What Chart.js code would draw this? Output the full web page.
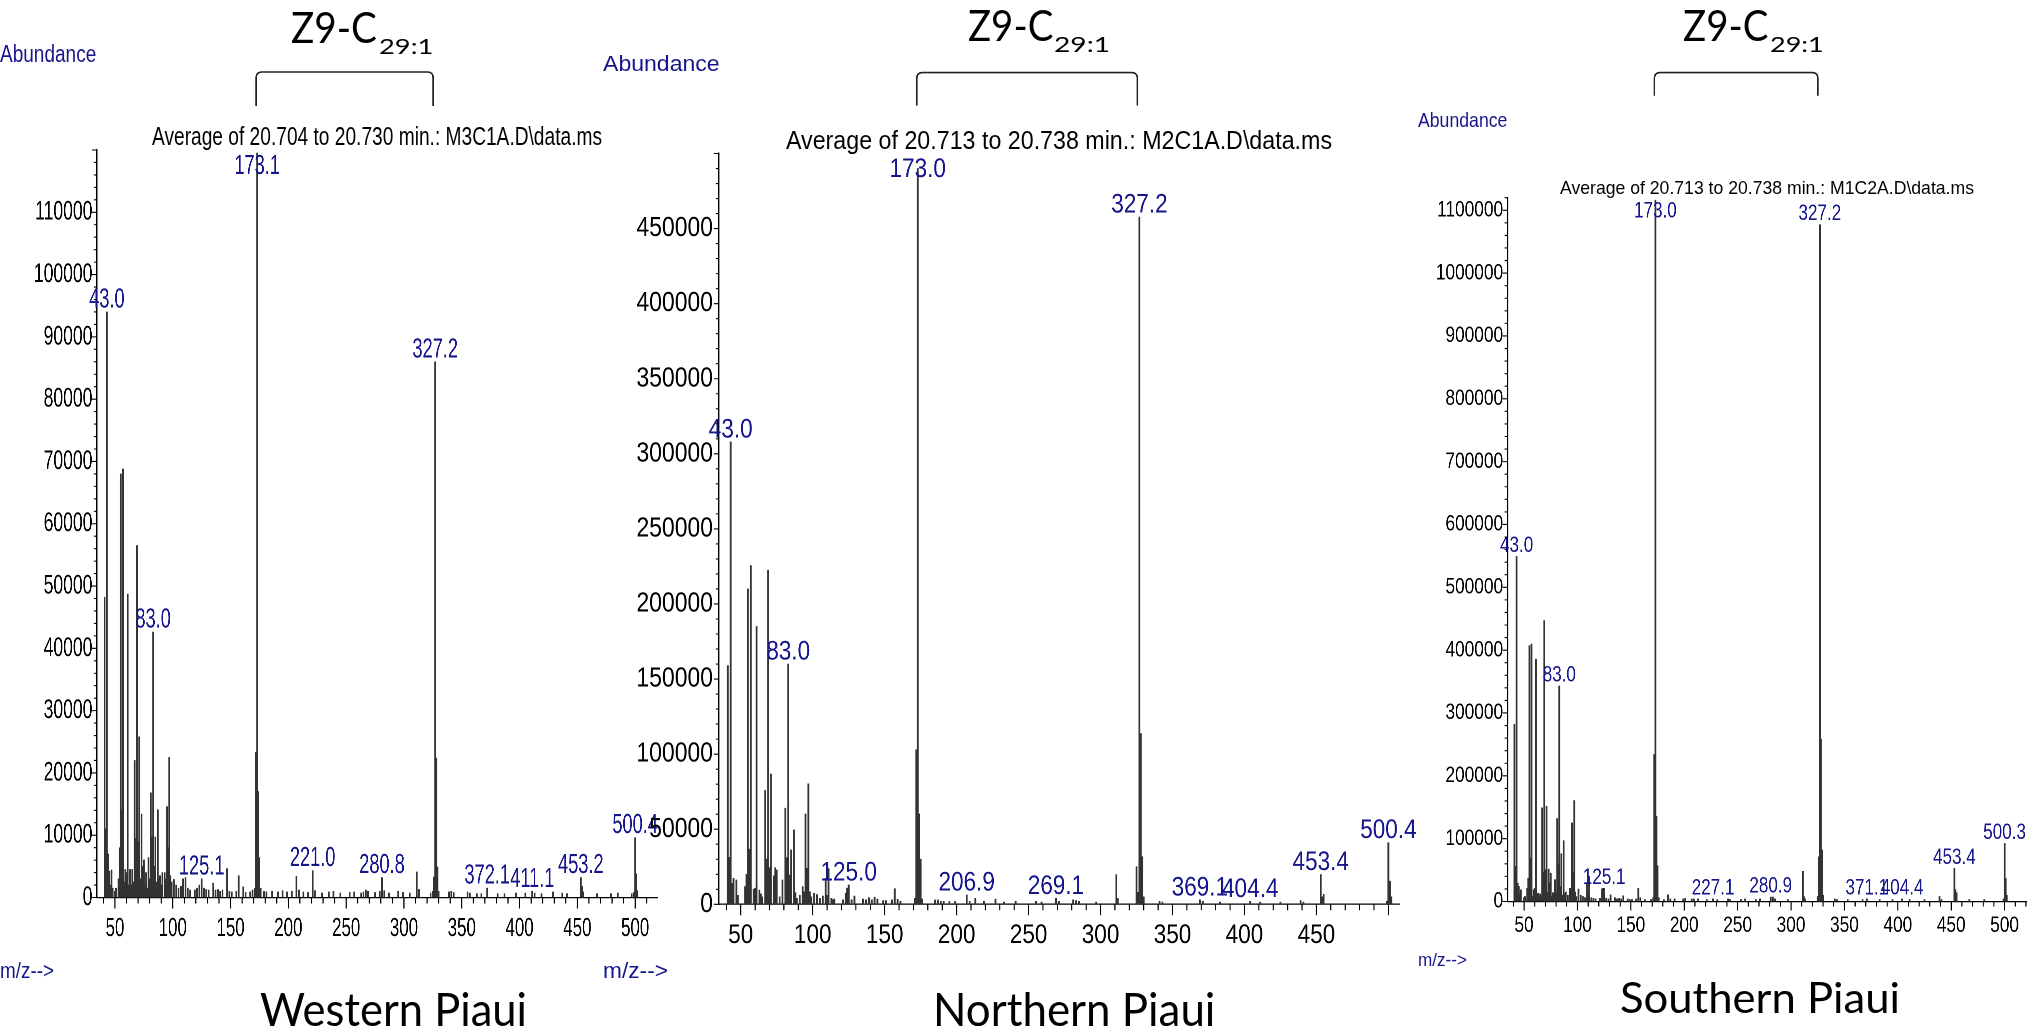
<!DOCTYPE html>
<html>
<head>
<meta charset="utf-8">
<script src="https://cdn.jsdelivr.net/npm/chart.js@4.4.1/dist/chart.umd.min.js"></script>
<style>
  html, body { margin: 0; padding: 0; background: #fff; width: 2042px; height: 1034px; overflow: hidden; position: relative; }
  .panel { position: absolute; top: 0; transform-origin: 0 0; }
  .txt { position: absolute; white-space: nowrap; line-height: normal; transform-origin: 0 0; }
</style>
</head>
<body>
<script>
// ---- Western Piaui (M3C1A) ----
var westMz = [41, 42, 43, 44, 45, 46, 47, 48, 50, 51, 53, 54, 55, 56, 57, 58, 59, 60, 61, 62, 63, 64, 65, 66, 67, 68, 69, 70,
  71, 72, 73, 74, 75, 76, 77, 78, 79, 80, 81, 82, 83, 84, 85, 86, 87, 88, 89, 90, 91, 93, 94, 95, 96, 97, 98, 99, 101, 103,
  105, 107, 109, 111, 113, 115, 119, 121, 123, 125, 127, 129, 131, 135, 137, 139, 141, 143, 147, 149, 151, 155, 157, 161,
  163, 167, 169, 171, 172, 173, 174, 175, 176, 179, 181, 186, 191, 195, 199, 203, 207, 209, 213, 217, 221, 223, 229, 235,
  239, 245, 253, 257, 263, 265, 267, 269, 275, 279, 281, 283, 287, 295, 299, 305, 311, 313, 323, 325, 326, 327, 328, 329,
  330, 339, 341, 343, 355, 357, 363, 367, 372, 381, 387, 397, 405, 411, 413, 419, 429, 437, 441, 453, 454, 455, 467, 479,
  485, 497, 499, 500, 501, 502];
var westAbund = [48200, 11000, 94000, 7000, 4200, 2000, 4400, 1500, 1000, 1500, 3000, 8000, 68000, 14000, 68800, 2500, 4500,
  4000, 48700, 2000, 4500, 2000, 4500, 2500, 22000, 9500, 56500, 9000, 25800, 3000, 13400, 5000, 6000, 2000, 4000, 1500, 6400,
  3000, 16800, 9700, 42600, 5000, 9700, 2500, 14100, 3000, 3500, 2000, 4000, 4000, 3000, 14600, 8000, 22500, 3500, 2500, 2900,
  2000, 1500, 1800, 3000, 3200, 1500, 1200, 1200, 1500, 2000, 3000, 1500, 1300, 1200, 2300, 1200, 1300, 1000, 1200, 4650,
  1000, 900, 1000, 3500, 1700, 800, 900, 1200, 1500, 23300, 119500, 17000, 6400, 1500, 1000, 900, 1000, 900, 1100, 900, 1000,
  3400, 1200, 900, 800, 4300, 1100, 700, 900, 1000, 700, 800, 900, 700, 900, 1200, 1000, 800, 1000, 3200, 1100, 700, 1000,
  800, 700, 4100, 1300, 700, 1000, 3300, 86000, 22400, 4900, 1000, 900, 1000, 800, 900, 700, 600, 600, 1500, 600, 600, 700,
  700, 1000, 700, 600, 900, 700, 600, 3200, 1800, 900, 600, 600, 700, 600, 800, 9600, 3800, 1100];
var westLabelMz = [43, 83, 125, 173, 221, 281, 327, 372, 411, 453, 500];
var westLabelText = ['43.0', '83.0', '125.1', '173.1', '221.0', '280.8', '327.2', '372.1', '411.1', '453.2', '500.4'];

// ---- Northern Piaui (M2C1A) ----
var northMz = [41, 42, 43, 44, 45, 47, 48, 53, 54, 55, 56, 57, 59, 60, 61, 63, 64, 65, 67, 68, 69, 70, 71, 73, 74, 75, 77,
  79, 81, 82, 83, 84, 85, 87, 88, 89, 91, 93, 94, 95, 96, 97, 98, 99, 101, 103, 105, 107, 109, 110, 111, 113, 114, 115, 121,
  123, 124, 125, 127, 129, 135, 137, 139, 141, 143, 145, 149, 151, 155, 157, 159, 161, 171, 172, 173, 174, 175, 176, 185,
  187, 189, 191, 195, 199, 207, 209, 213, 219, 227, 233, 241, 255, 259, 269, 271, 281, 283, 285, 297, 311, 312, 325, 326,
  327, 328, 329, 330, 341, 343, 369, 371, 383, 404, 411, 425, 439, 441, 453, 454, 455, 499, 500, 501, 502];
var northAbund = [159000, 31300, 308000, 14000, 17300, 16200, 6000, 11800, 20000, 210000, 36700, 225600, 10000, 10700,
  185000, 9500, 7000, 5000, 75800, 30200, 222500, 24400, 86700, 18900, 24400, 22900, 5000, 16200, 64000, 31100, 160000,
  19500, 36200, 49500, 7800, 4000, 6000, 11800, 8400, 60200, 24000, 80200, 8400, 5000, 7300, 6500, 4000, 5500, 17300, 6000,
  23800, 4000, 3000, 3500, 3000, 7300, 10700, 12900, 3000, 5500, 3500, 3000, 4400, 3000, 4700, 3500, 2500, 2500, 3000, 10400,
  3300, 2000, 4000, 102900, 490000, 60200, 30000, 3500, 2900, 2900, 2000, 2000, 2000, 2000, 6200, 2000, 4000, 2000, 3500,
  1500, 2000, 2000, 1500, 4000, 2000, 3000, 2500, 2000, 1500, 19800, 4000, 25000, 8000, 457700, 113700, 31700, 5000, 2000,
  1500, 3000, 2000, 1500, 2000, 1500, 1500, 2500, 1500, 19800, 5000, 6600, 2000, 41000, 15400, 5000];
var northLabelMz = [43, 83, 125, 173, 207, 269, 327, 369, 404, 453, 500];
var northLabelText = ['43.0', '83.0', '125.0', '173.0', '206.9', '269.1', '327.2', '369.1', '404.4', '453.4', '500.4'];

// ---- Southern Piaui (M1C2A) ----
var southMz = [41, 42, 43, 44, 45, 46, 47, 50, 51, 53, 54, 55, 56, 57, 58, 59, 60, 61, 62, 63, 64, 65, 66, 67, 68, 69, 70,
  71, 72, 73, 74, 75, 76, 77, 78, 79, 80, 81, 82, 83, 84, 85, 86, 87, 88, 89, 91, 93, 94, 95, 96, 97, 98, 99, 101, 103, 105,
  107, 109, 110, 111, 113, 115, 117, 121, 123, 124, 125, 127, 129, 131, 135, 137, 139, 141, 143, 147, 149, 151, 155, 157,
  159, 163, 169, 171, 172, 173, 174, 175, 176, 181, 185, 187, 191, 199, 201, 207, 209, 213, 221, 227, 231, 241, 243, 253,
  257, 267, 271, 281, 283, 285, 297, 311, 312, 313, 325, 326, 327, 328, 329, 330, 341, 343, 353, 367, 371, 383, 395, 404,
  411, 425, 439, 441, 453, 454, 455, 467, 481, 499, 500, 501, 502];
var southAbund = [281900, 55800, 549000, 29000, 24000, 12000, 18600, 6000, 8000, 21000, 37000, 407000, 69000, 409600, 8000,
  18600, 21000, 385600, 10000, 13000, 8000, 12000, 8000, 149000, 46000, 447000, 50500, 151600, 14000, 51600, 30000, 45000,
  8000, 14000, 12000, 34600, 14000, 131900, 60100, 343000, 24000, 76000, 10000, 96800, 12000, 15000, 10000, 21000, 18000,
  125000, 46800, 160600, 15000, 8000, 19700, 10000, 8000, 6000, 29000, 12000, 40000, 6000, 5000, 4000, 5000, 19700, 21000,
  21000, 5000, 4000, 10600, 6000, 4000, 5000, 4000, 9000, 4000, 3000, 3000, 4000, 21000, 6000, 3000, 3000, 6000, 234000,
  1116000, 135600, 57000, 6000, 3000, 10600, 4000, 4000, 4000, 5000, 4000, 4000, 4000, 3000, 4000, 3000, 4000, 3000, 3000,
  4000, 3000, 4000, 7000, 7000, 4000, 3000, 48000, 8000, 4000, 8000, 71000, 1077000, 258000, 82000, 10000, 4000, 3000, 3000,
  3000, 4000, 3000, 3000, 4000, 3000, 3000, 8000, 3000, 52500, 19000, 14000, 3000, 3000, 4000, 92400, 36700, 10000];
var southLabelMz = [43, 83, 125, 173, 227, 281, 327, 371, 404, 453, 500];
var southLabelText = ['43.0', '83.0', '125.1', '173.0', '227.1', '280.9', '327.2', '371.1', '404.4', '453.4', '500.3'];

var NAVY = '#15158c';
var SANS = "'Liberation Sans', Arial, sans-serif";
var TITLE = "Lato, 'Open Sans', sans-serif";

// page geometry of each spectrum (k = horizontal squeeze of the original plot)
var panels = [
  { mz: westMz, ab: westAbund, labMz: westLabelMz, labTxt: westLabelText,
    P: 0, k: 0.65, L: 96.7, R: 657.8, T: 150, B: 897.5, edge: 690,
    xMin: 34.2, xMax: 519.6, yMax: 120000, yMinor: 2000, yMajor: 10000, yLabelMax: 110000,
    yFont: 27, xFont: 26, labFont: 28, yPad: 4.3, xPad: 15.7, hide500: false,
    tkMaj: 11, tkMin: 6, brTop: 72, brBot: 106 },
  { mz: northMz, ab: northAbund, labMz: northLabelMz, labTxt: northLabelText,
    P: 600, k: 0.835, L: 718.7, R: 1399.6, T: 153.5, B: 904.3, edge: 1425,
    xMin: 34.7, xMax: 507.8, yMax: 500000, yMinor: 10000, yMajor: 50000, yLabelMax: 450000,
    yFont: 27.5, xFont: 27, labFont: 27, yPad: 5.7, xPad: 15.2, hide500: true,
    tkMaj: 11, tkMin: 6, brTop: 72.6, brBot: 105.6 },
  { mz: southMz, ab: southAbund, labMz: southLabelMz, labTxt: southLabelText,
    P: 1410, k: 0.775, L: 1507.5, R: 2026.8, T: 197.7, B: 901.5, edge: 2042,
    xMin: 34.5, xMax: 520.8, yMax: 1120000, yMinor: 20000, yMajor: 100000, yLabelMax: 1100000,
    yFont: 22.3, xFont: 22.3, labFont: 22, yPad: 4.4, xPad: 11, hide500: false,
    tkMaj: 9, tkMin: 5, brTop: 72.6, brBot: 95.7 }
];

function makeDecor(p) {
  return {
    id: 'decor',
    afterDraw: function(chart) {
      var ctx = chart.ctx, xs = chart.scales.x, ys = chart.scales.y, a = chart.chartArea, k = p.k;
      ctx.save();
      // peak labels (squeezed along with the plot)
      ctx.fillStyle = NAVY;
      ctx.font = p.labFont + 'px ' + SANS;
      ctx.textAlign = 'center';
      ctx.textBaseline = 'alphabetic';
      p.labMz.forEach(function(m, i) {
        var v = p.ab[p.mz.indexOf(m)];
        var base = Math.max(ys.getPixelForValue(v) - 4.5, a.top + 4 + 0.716 * p.labFont);
        ctx.fillText(p.labTxt[i], xs.getPixelForValue(m), base);
      });
      // tick marks and bracket drawn in page units
      ctx.scale(1 / k, 1);
      ctx.strokeStyle = '#000';
      ctx.lineWidth = 1.1;
      ctx.beginPath();
      xs.ticks.forEach(function(t) {
        var X = xs.getPixelForValue(t.value) * k;
        ctx.moveTo(X, a.bottom);
        ctx.lineTo(X, a.bottom + (t.value % 50 === 0 ? p.tkMaj : p.tkMin));
      });
      ys.ticks.forEach(function(t) {
        var Y = ys.getPixelForValue(t.value);
        ctx.moveTo(a.left * k, Y);
        ctx.lineTo(a.left * k - (t.value % p.yMajor === 0 ? 5 : 3), Y);
      });
      ctx.stroke();
      var X1 = xs.getPixelForValue(173) * k - 1, X2 = xs.getPixelForValue(327) * k - 2, r = 6;
      ctx.strokeStyle = '#222';
      ctx.lineWidth = 1.6;
      ctx.beginPath();
      ctx.moveTo(X1, p.brBot);
      ctx.lineTo(X1, p.brTop + r);
      ctx.quadraticCurveTo(X1, p.brTop, X1 + r, p.brTop);
      ctx.lineTo(X2 - r, p.brTop);
      ctx.quadraticCurveTo(X2, p.brTop, X2, p.brTop + r);
      ctx.lineTo(X2, p.brBot);
      ctx.stroke();
      ctx.restore();
    }
  };
}

function buildPanel(p) {
  var box = document.createElement('div');
  box.className = 'panel';
  box.style.left = p.P + 'px';
  box.style.transform = 'scaleX(' + p.k + ')';
  var cv = document.createElement('canvas');
  var W = Math.round((p.edge - p.P) / p.k);
  cv.width = W;
  cv.height = 1034;
  box.appendChild(cv);
  document.body.appendChild(box);
  var Ll = (p.L - p.P) / p.k, Rl = (p.R - p.P) / p.k;
  var points = p.mz.map(function(m, i) { return { x: m, y: p.ab[i] }; });

  new Chart(cv, {
    type: 'bar',
    data: {
      datasets: [{
        data: points,
        backgroundColor: '#333',
        borderWidth: 0,
        barThickness: 1.3 / p.k,
        grouped: false
      }]
    },
    options: {
      responsive: false,
      animation: false,
      devicePixelRatio: 2,
      layout: { padding: { left: 0, top: p.T, right: W - Rl, bottom: 0 } },
      plugins: { legend: { display: false }, tooltip: { enabled: false } },
      scales: {
        x: {
          type: 'linear', position: 'bottom', min: p.xMin, max: p.xMax, offset: false,
          grid: { display: true, drawOnChartArea: false, drawTicks: false },
          border: { display: true, color: '#000', width: 1.3 },
          ticks: {
            stepSize: 10, autoSkip: false, includeBounds: false, maxRotation: 0, minRotation: 0,
            padding: p.xPad, color: '#000', font: { family: SANS, size: p.xFont },
            callback: function(v) { return (v % 50 === 0 && !(p.hide500 && v === 500)) ? String(v) : ''; }
          },
          afterFit: function(s) { s.height = 1034 - p.B; }
        },
        y: {
          type: 'linear', min: 0, max: p.yMax,
          grid: { display: true, drawOnChartArea: false, drawTicks: false },
          border: { display: true, color: '#000', width: 1.3 / p.k },
          ticks: {
            stepSize: p.yMinor, autoSkip: false, includeBounds: false,
            padding: p.yPad / p.k, color: '#000', font: { family: SANS, size: p.yFont },
            callback: function(v) { return (v % p.yMajor === 0 && v <= p.yLabelMax) ? String(v) : ''; }
          },
          afterFit: function(s) { s.width = Ll; }
        }
      }
    },
    plugins: [makeDecor(p)]
  });
}

panels.forEach(buildPanel);

// texts around the plots: left, baseline, width (page px), font size
var texts = [
  { t: 'Abundance', x: 0, b: 61.7, w: 96.3, s: 24.7, c: NAVY, f: SANS },
  { t: 'Average of 20.704 to 20.730 min.: M3C1A.D\\data.ms', x: 151.7, b: 145, w: 450, s: 25.6, c: '#000', f: SANS },
  { t: 'm/z-->', x: 0, b: 978, w: 54, s: 22, c: NAVY, f: SANS },
  { t: 'Z9-C', x: 291.4, b: 42.7, w: 85.9, s: 43, c: '#000', f: TITLE },
  { t: '29:1', x: 379.4, b: 54, w: 54.3, s: 20.5, c: '#000', f: TITLE },
  { t: 'Western Piaui', x: 260, b: 1026, w: 267, s: 46, c: '#000', f: TITLE },

  { t: 'Abundance', x: 603, b: 71, w: 116.7, s: 22.7, c: NAVY, f: SANS },
  { t: 'Average of 20.713 to 20.738 min.: M2C1A.D\\data.ms', x: 785.7, b: 149.3, w: 546, s: 25.6, c: '#000', f: SANS },
  { t: 'm/z-->', x: 603, b: 978, w: 65, s: 22, c: NAVY, f: SANS },
  { t: 'Z9-C', x: 967.6, b: 41, w: 85.3, s: 43, c: '#000', f: TITLE },
  { t: '29:1', x: 1054.4, b: 51.5, w: 56, s: 20.5, c: '#000', f: TITLE },
  { t: 'Northern Piaui', x: 932.6, b: 1026, w: 282.4, s: 46, c: '#000', f: TITLE },

  { t: 'Abundance', x: 1418.3, b: 126.7, w: 89.4, s: 21, c: NAVY, f: SANS },
  { t: 'Average of 20.713 to 20.738 min.: M1C2A.D\\data.ms', x: 1560, b: 194, w: 414, s: 18.2, c: '#000', f: SANS },
  { t: 'm/z-->', x: 1418, b: 966, w: 49, s: 19, c: NAVY, f: SANS },
  { t: 'Z9-C', x: 1682.9, b: 41, w: 85.4, s: 43, c: '#000', f: TITLE },
  { t: '29:1', x: 1769.5, b: 51.5, w: 53.8, s: 20.5, c: '#000', f: TITLE },
  { t: 'Southern Piaui', x: 1620, b: 1013, w: 280, s: 42, c: '#000', f: TITLE }
];

texts.forEach(function(o) {
  var d = document.createElement('div');
  d.className = 'txt';
  d.style.left = o.x + 'px';
  d.style.top = '0px';
  d.style.font = o.s + 'px ' + o.f;
  d.style.color = o.c;
  var s = document.createElement('span');
  s.textContent = o.t;
  var m = document.createElement('i');
  m.style.cssText = 'display:inline-block;width:0;height:0;vertical-align:baseline';
  d.appendChild(s);
  d.appendChild(m);
  document.body.appendChild(d);
  var w = s.getBoundingClientRect().width;
  var base = m.getBoundingClientRect().bottom;
  d.style.top = (o.b - base) + 'px';
  d.style.transform = 'scaleX(' + (o.w / w) + ')';
});
</script>
</body>
</html>
